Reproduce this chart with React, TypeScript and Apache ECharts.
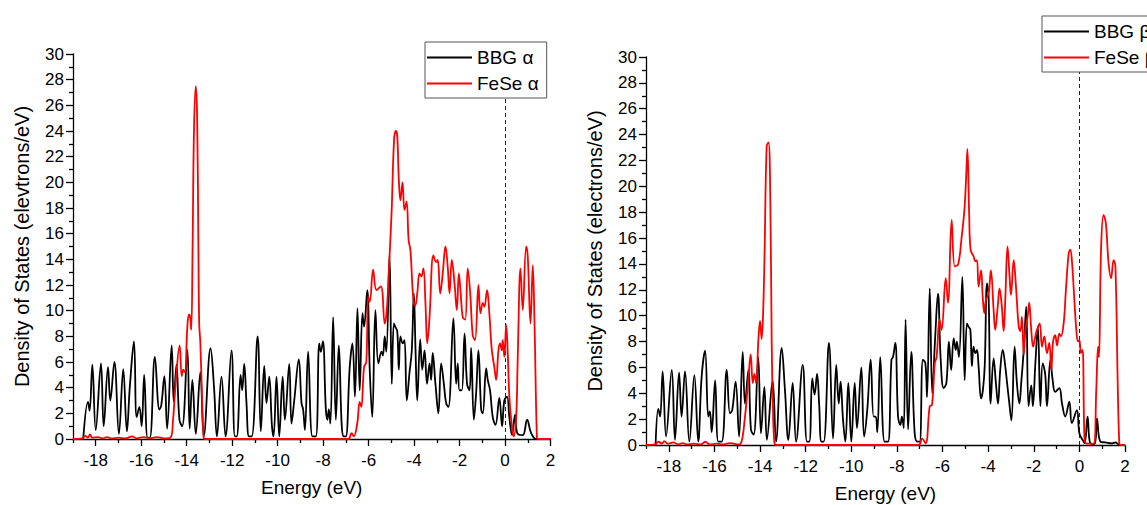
import React, { useEffect, useRef } from 'react';
import * as echarts from 'echarts';

const FONT = '"Liberation Sans", Arial, sans-serif';

const xMajorTicks = [-18, -16, -14, -12, -10, -8, -6, -4, -2, 0, 2];
const xMinorTicks = [-19, -17, -15, -13, -11, -9, -7, -5, -3, -1, 1];

const leftLegend = ['BBG α', 'FeSe α'];
const rightLegend = ['BBG β', 'FeSe β'];

const xTitle = 'Energy (eV)';
const yTitleLeft = 'Density of States (elevtrons/eV)';
const yTitleRight = 'Density of States (electrons/eV)';

// [energy (eV), DOS]
const bbgAlpha = [
  [-18.55, 0], [-18.34, 2.9], [-18.27, 2.2], [-18.15, 5.8], [-18.0, 0.7], [-17.77, 5.9], [-17.65, 1.0],
  [-17.46, 5.6], [-17.36, 3.0], [-17.18, 6.0], [-16.98, 0.4], [-16.79, 5.45], [-16.63, 0.6], [-16.5, 4.1],
  [-16.32, 7.6], [-16.2, 1.7], [-16.08, 2.5], [-15.98, 1.0], [-15.87, 5.0], [-15.72, 0.1], [-15.62, 0.1],
  [-15.4, 6.4], [-15.2, 2.3], [-15.12, 2.6], [-14.98, 4.9], [-14.86, 0.8], [-14.66, 7.3], [-14.57, 2.9],
  [-14.45, 5.8], [-14.32, 1.5], [-14.2, 1.0], [-13.97, 6.95], [-13.87, 0.8], [-13.75, 4.6], [-13.6, 0.4],
  [-13.4, 5.2], [-13.25, 0.2], [-12.95, 7.07], [-12.8, 4.1], [-12.67, 0.2], [-12.47, 4.86], [-12.29, 0.2],
  [-12.03, 6.9], [-11.88, 0.2], [-11.8, 0.2], [-11.63, 5.0], [-11.56, 3.8], [-11.47, 5.85], [-11.37, 2.8],
  [-11.26, 0.2], [-11.14, 0.2], [-10.88, 8.0], [-10.74, 0.6], [-10.59, 5.7], [-10.49, 2.8], [-10.37, 4.86],
  [-10.25, 1.0], [-10.18, 0.2], [-10.05, 4.86], [-9.93, 0.2], [-9.78, 4.86], [-9.68, 1.5], [-9.49, 5.85],
  [-9.39, 1.2], [-9.27, 3.0], [-9.07, 6.2], [-8.95, 2.8], [-8.88, 2.3], [-8.8, 0.7], [-8.66, 6.8],
  [-8.47, 0.2], [-8.32, 0.2], [-8.17, 7.45], [-8.1, 6.8], [-8.01, 7.6], [-7.88, 2.3], [-7.81, 1.5],
  [-7.75, 2.3], [-7.68, 1.2], [-7.56, 9.5], [-7.44, 1.5], [-7.31, 7.3], [-7.18, 1.0], [-7.09, 0.2],
  [-7.0, 0.2], [-6.83, 5.6], [-6.71, 7.45], [-6.6, 3.3], [-6.49, 10.2], [-6.39, 3.8], [-6.27, 9.8],
  [-6.2, 8.75], [-6.06, 11.6], [-5.95, 5.4], [-5.84, 1.7], [-5.7, 10.05], [-5.57, 5.9], [-5.43, 6.8],
  [-5.37, 6.5], [-5.29, 8.0], [-5.22, 6.8], [-5.08, 14.3], [-4.98, 4.3], [-4.89, 9.0], [-4.83, 8.75],
  [-4.74, 8.4], [-4.67, 5.4], [-4.6, 8.0], [-4.5, 7.45], [-4.42, 7.7], [-4.32, 3.0], [-4.2, 5.2],
  [-4.1, 6.9], [-4.01, 11.35], [-3.94, 7.2], [-3.86, 3.0], [-3.73, 7.77], [-3.64, 5.4], [-3.54, 6.9],
  [-3.43, 4.3], [-3.32, 5.9], [-3.25, 4.6], [-3.18, 6.7], [-3.06, 4.3], [-2.93, 2.0], [-2.81, 5.9],
  [-2.69, 4.3], [-2.59, 2.8], [-2.49, 2.5], [-2.27, 9.4], [-2.15, 4.3], [-2.08, 5.9], [-2.0, 3.8],
  [-1.9, 3.8], [-1.78, 8.2], [-1.67, 4.3], [-1.56, 3.8], [-1.49, 7.1], [-1.37, 1.5], [-1.27, 3.6],
  [-1.17, 6.9], [-1.05, 2.3], [-0.98, 2.0], [-0.83, 5.5], [-0.76, 4.6], [-0.66, 3.8], [-0.54, 1.7],
  [-0.42, 1.1], [-0.25, 3.2], [-0.13, 1.0], [-0.03, 3.0], [0.09, 3.3], [0.19, 1.7], [0.31, 0.3],
  [0.44, 1.9], [0.54, 0.45], [0.78, 0.3], [0.97, 1.5], [1.15, 0.45], [1.37, 0], [2, 0],
];

const feseAlpha = [
  [-19, 0], [-18.6, 0.05], [-18.45, 0.25], [-18.35, 0.1], [-18.25, 0.35], [-18.15, 0.1], [-17.9, 0.15],
  [-17.7, 0.05], [-17.5, 0.15], [-17.3, 0.05], [-17.0, 0.1], [-16.7, 0.05], [-16.4, 0.2], [-16.2, 0.05],
  [-15.9, 0.15], [-15.6, 0.05], [-15.3, 0.15], [-15.0, 0.05], [-14.72, 0.1], [-14.6, 1.5], [-14.5, 4.0],
  [-14.31, 7.3], [-14.22, 4.9], [-14.15, 5.4], [-14.08, 5.2], [-13.97, 8.8], [-13.9, 9.7], [-13.85, 9.5],
  [-13.8, 8.5], [-13.74, 15], [-13.68, 24], [-13.6, 27.5], [-13.54, 25], [-13.49, 16], [-13.45, 9.0],
  [-13.4, 7.5], [-13.33, 3.5], [-13.26, 0.2], [-13.2, 0], [-6.9, 0], [-6.75, 0.45], [-6.65, 0.2],
  [-6.5, 1.2], [-6.39, 2.9], [-6.32, 2.5], [-6.2, 5.6], [-6.1, 6.0], [-6.02, 11.1], [-5.95, 10.7],
  [-5.8, 13.2], [-5.65, 11.6], [-5.46, 11.9], [-5.29, 9.0], [-5.2, 10.0], [-5.1, 13.5], [-4.99, 17.6],
  [-4.88, 23.3], [-4.8, 24.0], [-4.74, 23.6], [-4.67, 20.2], [-4.6, 18.6], [-4.51, 20.0], [-4.42, 17.85],
  [-4.33, 18.5], [-4.24, 15.5], [-4.16, 14.7], [-4.06, 11.5], [-4.0, 10.5], [-3.95, 10.4], [-3.86, 11.35],
  [-3.76, 12.9], [-3.68, 12.65], [-3.59, 13.3], [-3.5, 10.6], [-3.42, 7.45], [-3.32, 9.5], [-3.15, 14.3],
  [-3.03, 13.8], [-2.96, 13.95], [-2.85, 11.35], [-2.74, 12.9], [-2.62, 15.0], [-2.52, 13.4], [-2.44, 11.35],
  [-2.34, 13.95], [-2.22, 12.1], [-2.12, 10.05], [-2.03, 12.9], [-1.96, 11.6], [-1.86, 9.5], [-1.75, 9.3],
  [-1.64, 13.3], [-1.53, 11.35], [-1.42, 8.1], [-1.32, 7.7], [-1.17, 12.0], [-1.08, 9.8], [-0.98, 10.6],
  [-0.91, 10.3], [-0.79, 11.6], [-0.69, 9.8], [-0.58, 6.9], [-0.47, 5.6], [-0.39, 4.6], [-0.29, 6.9],
  [-0.22, 7.45], [-0.14, 6.9], [-0.1, 7.7], [-0.03, 6.4], [0.05, 8.9], [0.12, 6.7], [0.19, 3.3],
  [0.3, 1.0], [0.38, 0.2], [0.49, 1.7], [0.56, 6.4], [0.68, 13.3], [0.78, 10.05], [0.93, 15.0],
  [1.0, 14.2], [1.12, 9.0], [1.22, 13.55], [1.3, 8.75], [1.4, 0.2], [1.45, 0], [2, 0],
];

const bbgBeta = [
  [-18.58, 0], [-18.46, 2.8], [-18.38, 2.2], [-18.27, 5.7], [-18.12, 0.65], [-17.87, 5.8], [-17.73, 0.4],
  [-17.55, 5.6], [-17.44, 2.2], [-17.29, 5.7], [-17.1, 0.26], [-16.88, 5.4], [-16.71, 0.26], [-16.56, 5.3],
  [-16.41, 7.3], [-16.27, 2.2], [-16.2, 2.6], [-16.12, 1.0], [-15.97, 5.0], [-15.83, 0.26], [-15.68, 0.26],
  [-15.46, 5.8], [-15.32, 2.45], [-15.22, 2.7], [-15.07, 4.9], [-14.92, 0.65], [-14.76, 7.2], [-14.66, 3.2],
  [-14.51, 5.8], [-14.4, 1.2], [-14.28, 0.8], [-14.08, 6.8], [-13.96, 0.9], [-13.81, 4.5], [-13.7, 0.4],
  [-13.45, 5.0], [-13.3, 0.26], [-13.05, 7.5], [-12.91, 4.3], [-12.76, 0.4], [-12.57, 4.8], [-12.42, 0.26],
  [-12.13, 6.2], [-11.94, 0.26], [-11.84, 0.26], [-11.71, 5.15], [-11.61, 3.9], [-11.5, 5.5], [-11.41, 3.2],
  [-11.31, 0.26], [-11.21, 0.26], [-10.98, 7.9], [-10.8, 0.5], [-10.66, 6.2], [-10.55, 3.2], [-10.47, 4.9],
  [-10.36, 1.9], [-10.26, 0.26], [-10.13, 4.8], [-10.0, 0.26], [-9.85, 4.8], [-9.75, 1.3], [-9.56, 6.0],
  [-9.44, 0.65], [-9.3, 2.7], [-9.15, 6.6], [-9.02, 2.2], [-8.93, 2.2], [-8.86, 1.0], [-8.73, 6.8],
  [-8.54, 0.26], [-8.39, 0.26], [-8.24, 6.6], [-8.17, 6.8], [-8.07, 7.9], [-7.95, 2.2], [-7.85, 1.55],
  [-7.78, 2.2], [-7.7, 1.3], [-7.62, 9.7], [-7.51, 1.2], [-7.37, 7.2], [-7.22, 0.9], [-7.1, 0.26],
  [-7.0, 0.26], [-6.86, 6.6], [-6.75, 6.3], [-6.68, 3.7], [-6.56, 12.1], [-6.45, 4.0], [-6.32, 8.4],
  [-6.2, 11.7], [-6.08, 6.6], [-5.95, 4.4], [-5.83, 4.8], [-5.72, 8.0], [-5.62, 5.8], [-5.51, 8.25],
  [-5.42, 7.35], [-5.37, 8.0], [-5.28, 6.8], [-5.13, 13.0], [-5.03, 5.0], [-4.93, 9.4], [-4.86, 9.15],
  [-4.78, 8.9], [-4.71, 6.1], [-4.64, 7.6], [-4.56, 7.1], [-4.49, 7.35], [-4.42, 6.1], [-4.31, 3.6],
  [-4.23, 4.25], [-4.15, 6.1], [-4.05, 12.5], [-3.98, 11.5], [-3.89, 3.2], [-3.76, 6.7], [-3.66, 4.8],
  [-3.57, 3.2], [-3.47, 5.8], [-3.36, 7.35], [-3.25, 6.1], [-3.17, 4.8], [-3.07, 3.2], [-2.98, 1.9],
  [-2.84, 7.6], [-2.74, 4.8], [-2.63, 3.2], [-2.55, 4.8], [-2.44, 7.35], [-2.33, 10.7], [-2.23, 3.0],
  [-2.11, 4.6], [-2.04, 3.0], [-1.93, 6.3], [-1.82, 9.15], [-1.71, 3.0], [-1.61, 6.3], [-1.5, 5.5],
  [-1.42, 3.0], [-1.27, 6.6], [-1.17, 5.0], [-1.06, 4.1], [-0.88, 4.4], [-0.76, 3.2], [-0.62, 2.2],
  [-0.44, 3.35], [-0.33, 1.7], [-0.11, 2.7], [0.0, 0.9], [0.14, 0.4], [0.23, 0.13], [0.36, 2.2],
  [0.48, 0.13], [0.67, 0.08], [0.77, 2.05], [0.92, 0.26], [1.14, 0.2], [1.43, 0.13], [1.58, 0.2],
  [1.72, 0.05], [1.94, 0],
];

const feseBeta = [
  [-19, 0], [-18.6, 0.05], [-18.45, 0.25], [-18.3, 0.1], [-18.2, 0.3], [-18.05, 0.1], [-17.8, 0.2],
  [-17.6, 0.05], [-17.4, 0.15], [-17.2, 0.05], [-16.9, 0.1], [-16.6, 0.05], [-16.4, 0.25], [-16.2, 0.05],
  [-15.9, 0.1], [-15.6, 0.05], [-15.3, 0.15], [-15.0, 0.05], [-14.85, 0.1], [-14.66, 2.2], [-14.5, 5.4],
  [-14.41, 7.0], [-14.32, 4.8], [-14.25, 5.5], [-14.17, 4.8], [-14.08, 7.9], [-14.0, 9.6], [-13.93, 8.2],
  [-13.86, 10.5], [-13.8, 15], [-13.71, 23.1], [-13.63, 23.4], [-13.55, 19], [-13.49, 8], [-13.43, 2.5],
  [-13.37, 0.2], [-13.3, 0], [-7.05, 0], [-6.9, 0.5], [-6.74, 0.13], [-6.56, 3.0], [-6.46, 3.1],
  [-6.34, 6.3], [-6.26, 6.8], [-6.13, 9.7], [-6.04, 8.9], [-5.86, 12.9], [-5.76, 11.0], [-5.6, 17.4],
  [-5.46, 13.8], [-5.31, 14.0], [-5.16, 16.1], [-5.04, 18.2], [-4.97, 20.5], [-4.91, 22.9], [-4.83, 17.7],
  [-4.77, 15.1], [-4.64, 14.6], [-4.56, 14.2], [-4.49, 14.3], [-4.42, 12.25], [-4.31, 13.5], [-4.24, 11.5],
  [-4.17, 10.2], [-4.1, 11.2], [-3.98, 11.7], [-3.88, 13.5], [-3.76, 10.45], [-3.69, 8.9], [-3.58, 10.7],
  [-3.5, 12.1], [-3.4, 10.7], [-3.32, 8.8], [-3.25, 11.2], [-3.15, 15.35], [-3.06, 13.0], [-3.0, 11.6],
  [-2.88, 14.3], [-2.78, 12.25], [-2.66, 9.15], [-2.59, 8.8], [-2.52, 9.9], [-2.44, 7.0], [-2.37, 8.9],
  [-2.27, 9.9], [-2.2, 11.0], [-2.11, 8.9], [-2.03, 7.6], [-1.93, 8.4], [-1.86, 8.9], [-1.74, 9.4],
  [-1.64, 7.6], [-1.54, 8.4], [-1.42, 7.1], [-1.32, 7.9], [-1.23, 5.8], [-1.16, 7.9], [-1.06, 8.5],
  [-0.98, 7.7], [-0.88, 8.6], [-0.81, 8.4], [-0.69, 9.4], [-0.59, 12.0], [-0.47, 14.8], [-0.4, 15.1],
  [-0.32, 14.05], [-0.22, 11.2], [-0.13, 8.8], [-0.06, 8.0], [0.0, 8.1], [0.07, 7.1], [0.14, 7.35],
  [0.22, 0.65], [0.29, 0.13], [0.48, 0.1], [0.63, 0.1], [0.74, 4.25], [0.82, 7.6], [0.86, 6.8],
  [0.95, 15.1], [1.06, 17.8], [1.16, 17.15], [1.28, 14.05], [1.39, 12.9], [1.5, 14.3], [1.58, 13.8],
  [1.68, 4.8], [1.75, 0.13], [1.8, 0], [2, 0],
];

const textBase = { color: '#000', fontFamily: FONT };

function makeXAxes(gridIndex: number) {
  return [
    {
      type: 'value', gridIndex, position: 'bottom', min: -19, max: 2, interval: 1,
      name: xTitle, nameLocation: 'middle', nameGap: 39,
      nameTextStyle: { ...textBase, fontSize: 19 },
      axisLine: { show: true, onZero: false, lineStyle: { color: '#000', width: 1.3 } },
      axisTick: { show: true, customValues: xMajorTicks, length: 7, lineStyle: { color: '#000', width: 1.3 } },
      axisLabel: { show: true, customValues: xMajorTicks, margin: 13, fontSize: 17, ...textBase },
      splitLine: { show: false },
    },
    {
      type: 'value', gridIndex, position: 'bottom', min: -19, max: 2, interval: 1,
      axisLine: { show: false, onZero: false },
      axisTick: { show: true, customValues: xMinorTicks, length: 4, lineStyle: { color: '#000', width: 1.3 } },
      axisLabel: { show: false },
      splitLine: { show: false },
    },
  ];
}

function makeYAxis(gridIndex: number, name: string) {
  return {
    type: 'value', gridIndex, position: 'left', min: 0, max: 30, interval: 2,
    name, nameLocation: 'middle', nameGap: 41,
    nameTextStyle: { ...textBase, fontSize: 20 },
    axisLine: { show: true, onZero: false, lineStyle: { color: '#000', width: 1.3 } },
    axisTick: { show: true, length: 7, lineStyle: { color: '#000', width: 1.3 } },
    minorTick: { show: true, splitNumber: 2, length: 4, lineStyle: { color: '#000', width: 1.3 } },
    axisLabel: { show: true, margin: 9, fontSize: 17, ...textBase },
    splitLine: { show: false },
    minorSplitLine: { show: false },
  };
}

const dashedZero = {
  silent: true,
  z: 1,
  symbol: ['none', 'none'],
  label: { show: false },
  lineStyle: { color: '#222', type: [4, 3], width: 1 },
  data: [{ xAxis: 0 }],
};

function makeLegend(names: string[], left: number, top: number) {
  return {
    show: true, orient: 'vertical', left, top, data: names, z: 30,
    icon: 'rect', itemWidth: 45, itemHeight: 1.8, itemGap: 7,
    padding: [6, 8, 5, 2],
    backgroundColor: '#fff', borderColor: '#555', borderWidth: 1, borderRadius: 0,
    textStyle: { ...textBase, fontSize: 19 },
    selectedMode: false,
  };
}

function lineSeries(name: string, data: number[][], color: string, xAxisIndex: number, yAxisIndex: number, mark?: boolean) {
  return {
    name, type: 'line', xAxisIndex, yAxisIndex, data,
    symbol: 'none', showSymbol: false, smooth: 0.4,
    color, itemStyle: { color },
    lineStyle: { color, width: 1.8 },
    emphasis: { disabled: true },
    markLine: mark ? dashedZero : undefined,
  };
}

export default function App() {
  const ref = useRef<HTMLDivElement>(null);
  useEffect(() => {
    if (!ref.current) return;
    const chart = echarts.init(ref.current, null, { renderer: 'svg' });
    const option = {
      animation: false,
      backgroundColor: '#fff',
      grid: [
        { left: 73, top: 54, width: 477.5, height: 385, outerBoundsMode: 'none', containLabel: false },
        { left: 646, top: 57, width: 479, height: 388, outerBoundsMode: 'none', containLabel: false },
      ],
      xAxis: [...makeXAxes(0), ...makeXAxes(1)],
      yAxis: [makeYAxis(0, yTitleLeft), makeYAxis(1, yTitleRight)],
      legend: [makeLegend(leftLegend, 425, 42), makeLegend(rightLegend, 1042, 16)],
      series: [
        lineSeries(leftLegend[0], bbgAlpha, '#000000', 0, 0, true),
        lineSeries(leftLegend[1], feseAlpha, '#ff0000', 0, 0),
        lineSeries(rightLegend[0], bbgBeta, '#000000', 2, 1, true),
        lineSeries(rightLegend[1], feseBeta, '#ff0000', 2, 1),
      ],
    };
    chart.setOption(option as any);
    return () => chart.dispose();
  }, []);
  return (
    <div
      ref={ref}
      style={{ position: 'fixed', left: 0, top: 0, width: 1147, height: 505, background: '#fff' }}
    />
  );
}
